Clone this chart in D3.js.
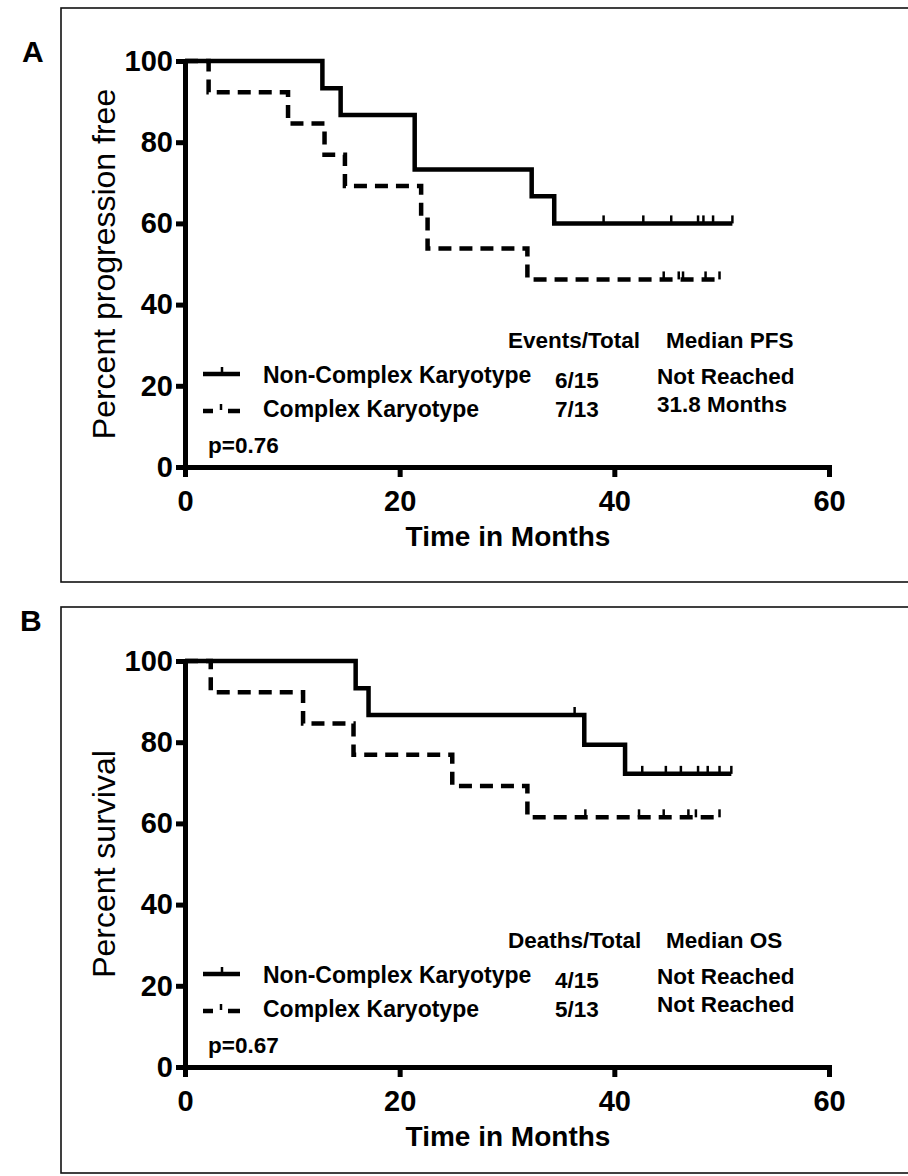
<!DOCTYPE html>
<html>
<head>
<meta charset="utf-8">
<script src="https://cdn.jsdelivr.net/npm/d3@7"></script>
<style>
  body { margin: 0; background: #fff; }
  svg { display: block; font-family: "Liberation Sans", Arial, sans-serif; }
</style>
</head>
<body>
<svg id="chart" width="908" height="1176"></svg>
<script>
// Panel A: progression free survival
const pfsNonComplexTimes = [0, 12.8, 14.5, 21.4, 32.3, 34.4, 51.0];
const pfsNonComplexSurv = [100, 93.3, 86.7, 73.3, 66.7, 60.0, 60.0];
const pfsNonComplexCensor = [39.0, 42.7, 45.3, 47.8, 48.3, 49.2, 51.0];

const pfsComplexTimes = [0, 2.2, 9.6, 13.0, 14.9, 22.0, 22.6, 31.9, 49.8];
const pfsComplexSurv = [100, 92.3, 84.6, 76.9, 69.2, 61.5, 53.8, 46.2, 46.2];
const pfsComplexCensor = [44.6, 46.0, 46.4, 48.5, 49.8];

// Panel B: overall survival
const osNonComplexTimes = [0, 15.9, 17.1, 37.2, 41.0, 50.9];
const osNonComplexSurv = [100, 93.3, 86.7, 79.4, 72.2, 72.2];
const osNonComplexCensor = [36.3, 42.6, 44.8, 46.2, 47.8, 48.7, 49.8, 50.9];

const osComplexTimes = [0, 2.4, 11.0, 15.7, 24.9, 31.9, 49.8];
const osComplexSurv = [100, 92.3, 84.6, 76.9, 69.2, 61.5, 61.5];
const osComplexCensor = [37.3, 42.3, 44.6, 46.9, 47.6, 49.8];

const groupNames = ["Non-Complex Karyotype", "Complex Karyotype"];
const pfsCounts = ["6/15", "7/13"];
const pfsMedians = ["Not Reached", "31.8 Months"];
const osCounts = ["4/15", "5/13"];
const osMedians = ["Not Reached", "Not Reached"];

const xTicks = [0, 20, 40, 60];
const yTicks = [0, 20, 40, 60, 80, 100];

const panels = [
  { letter: "A", dy: 0, frameTop: 8, frameBottom: 582, letterX: 22, letterY: 62,
    ylabel: "Percent progression free", countHead: "Events/Total", medianHead: "Median PFS",
    counts: pfsCounts, medians: pfsMedians, p: "p=0.76",
    curves: [
      { times: pfsNonComplexTimes, surv: pfsNonComplexSurv, censor: pfsNonComplexCensor, dashed: false },
      { times: pfsComplexTimes, surv: pfsComplexSurv, censor: pfsComplexCensor, dashed: true }
    ] },
  { letter: "B", dy: 600, frameTop: 7, frameBottom: 573, letterX: 20, letterY: 31,
    ylabel: "Percent survival", countHead: "Deaths/Total", medianHead: "Median OS",
    counts: osCounts, medians: osMedians, p: "p=0.67",
    curves: [
      { times: osNonComplexTimes, surv: osNonComplexSurv, censor: osNonComplexCensor, dashed: false },
      { times: osComplexTimes, surv: osComplexSurv, censor: osComplexCensor, dashed: true }
    ] }
];

const svg = d3.select("#chart");
svg.append("rect").attr("width", 908).attr("height", 1176).attr("fill", "#fff");

const x = d3.scaleLinear().domain([0, 60]).range([185, 829]);
const y = d3.scaleLinear().domain([0, 100]).range([467, 61]);

const stepLine = d3.line()
  .x(d => x(d[0]))
  .y(d => y(d[1]))
  .curve(d3.curveStepAfter);

// survival level in effect at time t
const levelAt = (c, t) => {
  let s = c.surv[0];
  c.times.forEach((tt, i) => { if (tt <= t) s = c.surv[i]; });
  return s;
};

panels.forEach(p => {
  const g = svg.append("g").attr("transform", `translate(0,${p.dy})`);

  g.append("rect")
    .attr("x", 61).attr("y", p.frameTop)
    .attr("width", 900).attr("height", p.frameBottom - p.frameTop)
    .attr("fill", "none").attr("stroke", "#111").attr("stroke-width", 1.6);

  g.append("text")
    .attr("x", p.letterX).attr("y", p.letterY)
    .attr("font-size", 30).attr("font-weight", "bold")
    .text(p.letter);

  // axes
  const xAxis = g.append("g")
    .attr("transform", "translate(0,467)")
    .call(d3.axisBottom(x).tickValues(xTicks).tickSize(10).tickSizeOuter(0).tickPadding(13));

  const yAxis = g.append("g")
    .attr("transform", "translate(185,0)")
    .call(d3.axisLeft(y).tickValues(yTicks).tickSize(9).tickSizeOuter(0).tickPadding(3));

  [xAxis, yAxis].forEach(a => {
    a.select(".domain").attr("stroke", "#000").attr("stroke-width", 5).attr("stroke-linecap", "square");
    a.selectAll(".tick line").attr("stroke", "#000").attr("stroke-width", 5);
    a.selectAll(".tick text")
      .attr("fill", "#000")
      .attr("font-size", 29)
      .attr("font-weight", "bold")
      .attr("font-family", "'Liberation Sans', Arial, sans-serif");
  });

  g.append("text")
    .attr("x", 508).attr("y", 546)
    .attr("text-anchor", "middle")
    .attr("font-size", 28).attr("font-weight", "bold")
    .text("Time in Months");

  g.append("text")
    .attr("transform", "translate(115,264) rotate(-90)")
    .attr("text-anchor", "middle")
    .attr("font-size", 32)
    .text(p.ylabel);

  // curves
  p.curves.forEach(c => {
    const pts = c.times.map((t, i) => [t, c.surv[i]]);
    g.append("path")
      .attr("d", stepLine(pts))
      .attr("fill", "none")
      .attr("stroke", "#000")
      .attr("stroke-width", 4.5)
      .attr("stroke-dasharray", c.dashed ? "13,8" : null);

    g.selectAll(null)
      .data(c.censor)
      .join("line")
      .attr("x1", d => x(d)).attr("x2", d => x(d))
      .attr("y1", d => y(levelAt(c, d)))
      .attr("y2", d => y(levelAt(c, d)) - 8)
      .attr("stroke", "#000")
      .attr("stroke-width", 2.5);
  });

  // legend
  const lg = g.append("g").attr("font-weight", "bold").attr("font-size", 22.5);

  lg.append("line")
    .attr("x1", 203).attr("x2", 240).attr("y1", 374).attr("y2", 374)
    .attr("stroke", "#000").attr("stroke-width", 4.5);
  lg.append("line")
    .attr("x1", 222).attr("x2", 222).attr("y1", 374).attr("y2", 367)
    .attr("stroke", "#000").attr("stroke-width", 2.5);
  lg.append("line")
    .attr("x1", 203).attr("x2", 240).attr("y1", 411).attr("y2", 411)
    .attr("stroke", "#000").attr("stroke-width", 4.5)
    .attr("stroke-dasharray", "10,15,12");
  lg.append("line")
    .attr("x1", 221).attr("x2", 221).attr("y1", 404).attr("y2", 410)
    .attr("stroke", "#000").attr("stroke-width", 2.5);

  lg.append("text").attr("x", 508).attr("y", 348).text(p.countHead);
  lg.append("text").attr("x", 666).attr("y", 348).text(p.medianHead);

  lg.selectAll(".name")
    .data(groupNames)
    .join("text")
    .attr("class", "name")
    .attr("x", 263)
    .attr("y", (d, i) => [383, 417][i])
    .attr("font-size", 23)
    .text(d => d);

  lg.selectAll(".count")
    .data(p.counts)
    .join("text")
    .attr("class", "count")
    .attr("x", 555)
    .attr("y", (d, i) => [388, 417][i])
    .text(d => d);

  lg.selectAll(".median")
    .data(p.medians)
    .join("text")
    .attr("class", "median")
    .attr("x", 657)
    .attr("y", (d, i) => [384, 412][i])
    .text(d => d);

  lg.append("text").attr("x", 208).attr("y", 453).text(p.p);
});
</script>
</body>
</html>
